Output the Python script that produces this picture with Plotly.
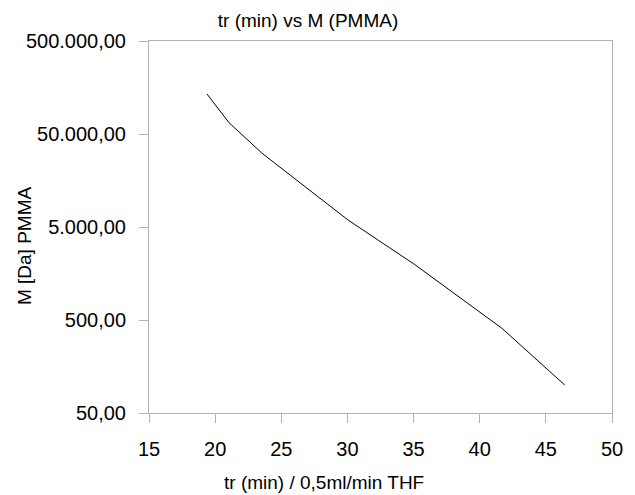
import plotly.graph_objects as go

# Data
tr_min = [19.38, 21.05, 23.55, 26.55, 30.05, 35.05, 37.55, 39.93, 41.68, 46.43]
mass_da = [134600, 66200, 31000, 14400, 5940, 1990, 1096, 614, 407, 100]

y_tickvals = [50, 500, 5000, 50000, 500000]
y_ticktext = ["50,00", "500,00", "5.000,00", "50.000,00", "500.000,00"]
x_tickvals = [15, 20, 25, 30, 35, 40, 45, 50]

FONT = "Liberation Sans, Arial, sans-serif"
GRID = "#b3b3b3"
W, H = 635, 495

fig = go.Figure()
fig.add_trace(go.Scatter(
    x=tr_min, y=mass_da, mode="lines",
    line=dict(color="#000000", width=1),
    showlegend=False, hoverinfo="x+y",
))

fig.update_layout(
    width=W, height=H,
    margin=dict(l=149, r=19, t=41, b=82),
    paper_bgcolor="white", plot_bgcolor="white",
    font=dict(family=FONT, size=20, color="#000000"),
    title=dict(text="tr (min) vs M (PMMA)", x=308/W, xanchor="center",
               y=1 - 20/H, yanchor="middle",
               font=dict(family=FONT, size=19, color="#000000")),
    annotations=[
        dict(text="tr (min) / 0,5ml/min THF", xref="paper", yref="paper",
             x=(326 - 149) / (616 - 149), y=-(482 - 413) / (413 - 41),
             xanchor="center", yanchor="middle", showarrow=False,
             font=dict(family=FONT, size=19, color="#000000")),
        dict(text="M [Da] PMMA", xref="paper", yref="paper", textangle=-90,
             x=-(149 - 24) / (616 - 149), y=(413 - 246) / (413 - 41),
             xanchor="center", yanchor="middle", showarrow=False,
             font=dict(family=FONT, size=19, color="#000000")),
    ],
)

fig.update_xaxes(
    range=[15, 50], tickvals=x_tickvals,
    showgrid=False, zeroline=False,
    showline=True, linecolor=GRID, linewidth=1, mirror=True,
    ticks="outside", ticklen=9, tickcolor=GRID, tickwidth=1,
    ticklabelstandoff=9,
    tickfont=dict(family=FONT, size=20, color="#000000"),
)

fig.update_yaxes(
    type="log", range=[1.69897, 5.69897],
    tickvals=y_tickvals, ticktext=y_ticktext,
    showgrid=False, zeroline=False,
    showline=True, linecolor=GRID, linewidth=1, mirror=True,
    ticks="outside", ticklen=9, tickcolor=GRID, tickwidth=1,
    ticklabelstandoff=9,
    tickfont=dict(family=FONT, size=20, color="#000000"),
)

fig.write_html("out.html")
